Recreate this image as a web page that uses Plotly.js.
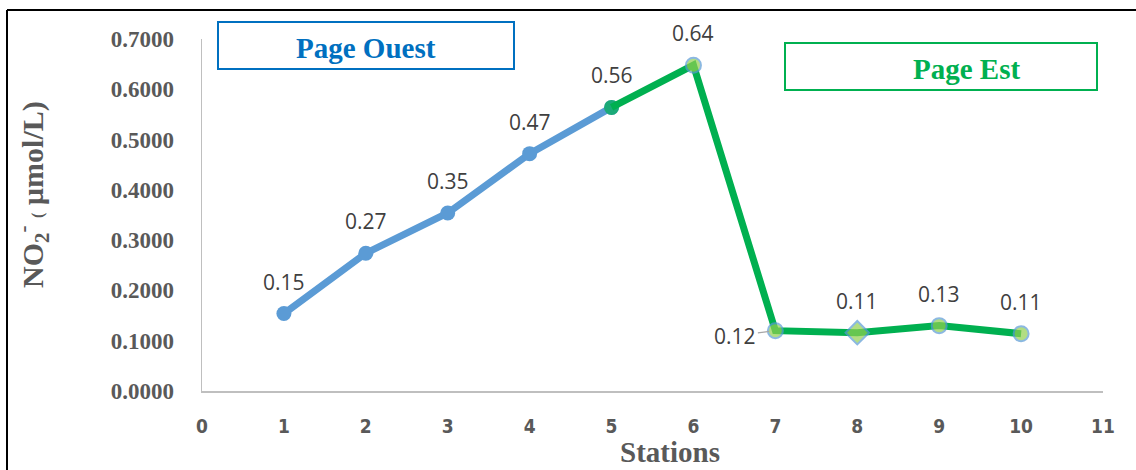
<!DOCTYPE html>
<html>
<head>
<meta charset="utf-8">
<script src="https://cdn.plot.ly/plotly-3.0.1.min.js"></script>
<style>
  html, body { margin: 0; padding: 0; background: #fff; }
  #chart { width: 1136px; height: 470px; }
</style>
</head>
<body>
<div id="chart"></div>
<script>
// ---- data ----
const stations = [1, 2, 3, 4, 5, 6, 7, 8, 9, 10];
const no2 = [0.154, 0.274, 0.354, 0.472, 0.564, 0.648, 0.120, 0.116, 0.130, 0.114];
const valueLabels = ["0.15", "0.27", "0.35", "0.47", "0.56", "0.64", "0.12", "0.11", "0.13", "0.11"];
const xTicks = [0, 1, 2, 3, 4, 5, 6, 7, 8, 9, 10, 11];
const yTicks = [0, 0.1, 0.2, 0.3, 0.4, 0.5, 0.6, 0.7];
const yTickText = ["0.0000", "0.1000", "0.2000", "0.3000", "0.4000", "0.5000", "0.6000", "0.7000"];
const westLabel = "Page Ouest";
const eastLabel = "Page Est";

// ---- layout helpers ----
const M = { l: 202, r: 33, t: 39, b: 79 };
const W = 1136, H = 470;
const PW = W - M.l - M.r, PH = H - M.t - M.b;
const px2x = p => (p - M.l) / PW;
const py2y = p => (H - M.b - p) / PH;

const westX = stations.slice(0, 5), westY = no2.slice(0, 5);
const eastX = stations.slice(4), eastY = no2.slice(4);

const blue = "#5B9BD5", green = "#00B050", lightGreen = "#92D050";

const westTrace = {
  type: "scatter", mode: "lines+markers",
  x: westX, y: westY,
  line: { color: blue, width: 7 },
  marker: { symbol: "circle", size: 15, color: blue },
  hoverinfo: "x+y", showlegend: false
};

const eastSymbols = eastX.map(s => s === 8 ? "diamond" : "circle");
const eastColors = eastX.map(s => s === 5 ? green : lightGreen);
const eastLineW = eastX.map(s => s === 5 ? 0 : 2);
const eastSizes = eastX.map(s => s === 8 ? 18 : 15);

const eastTrace = {
  type: "scatter", mode: "lines+markers",
  x: eastX, y: eastY,
  line: { color: green, width: 7 },
  marker: { symbol: eastSymbols, size: eastSizes, color: eastColors,
            line: { color: blue, width: eastLineW } },
  hoverinfo: "x+y", showlegend: false
};

const labelFont = { family: "Open Sans, Arial, sans-serif", size: 21, color: "#404040" };
const annotations = stations.map((s, i) => {
  if (s === 7) {
    return { x: s, y: no2[i], xref: "x", yref: "y", text: valueLabels[i],
      showarrow: true, arrowhead: 0, arrowwidth: 1.2, arrowcolor: "#A6A6A6",
      ax: -40, ay: 5, standoff: 6, font: labelFont };
  }
  return { x: s, y: no2[i], xref: "x", yref: "y", text: valueLabels[i],
    showarrow: false, yshift: 32, font: labelFont };
});

// Box titles
annotations.push({
  xref: "paper", yref: "paper", x: px2x(366), y: py2y(48), text: "<b>" + westLabel + "</b>",
  showarrow: false, xanchor: "center", yanchor: "middle",
  font: { family: "Liberation Serif, Times New Roman, serif", size: 29, color: "#0070C0" }
});
annotations.push({
  xref: "paper", yref: "paper", x: px2x(966), y: py2y(69), text: "<b>" + eastLabel + "</b>",
  showarrow: false, xanchor: "center", yanchor: "middle",
  font: { family: "Liberation Serif, Times New Roman, serif", size: 29, color: green }
});
// Axis titles
annotations.push({
  xref: "paper", yref: "paper", x: px2x(670), y: py2y(452), text: "<b>Stations</b>",
  showarrow: false, xanchor: "center", yanchor: "middle",
  font: { family: "Liberation Serif, Times New Roman, serif", size: 29, color: "#595959" }
});
annotations.push({
  xref: "paper", yref: "paper", x: px2x(32), y: py2y(195), textangle: -90,
  text: "<b>NO<sub>2</sub><sup>-</sup> <span style='font-size:16px'>(</span> µmol/L)</b>",
  showarrow: false, xanchor: "center", yanchor: "middle",
  font: { family: "Liberation Serif, Times New Roman, serif", size: 30, color: "#595959" }
});

const shapes = [
  // Page Ouest box
  { type: "rect", xref: "paper", yref: "paper", x0: px2x(218), x1: px2x(514), y0: py2y(69), y1: py2y(22),
    line: { color: "#0070C0", width: 2 }, fillcolor: "rgba(0,0,0,0)" },
  // Page Est box
  { type: "rect", xref: "paper", yref: "paper", x0: px2x(785), x1: px2x(1097), y0: py2y(90), y1: py2y(43),
    line: { color: green, width: 2 }, fillcolor: "rgba(0,0,0,0)" },
  // outer frame (left and top edges)
  { type: "line", xref: "paper", yref: "paper", x0: px2x(7), x1: px2x(7), y0: py2y(480), y1: py2y(10),
    line: { color: "#000", width: 2 } },
  { type: "line", xref: "paper", yref: "paper", x0: px2x(7), x1: px2x(1140), y0: py2y(10), y1: py2y(10),
    line: { color: "#000", width: 2 } }
];

const layout = {
  width: W, height: H,
  margin: M,
  paper_bgcolor: "#fff", plot_bgcolor: "#fff",
  showlegend: false,
  xaxis: {
    range: [0, 11], tickvals: xTicks, ticktext: xTicks.map(String),
    showgrid: false, zeroline: false,
    showline: true, linecolor: "#BFBFBF", linewidth: 1.5,
    ticks: "outside", ticklen: 18, tickcolor: "rgba(0,0,0,0)",
    tickfont: { family: "Liberation Sans Narrow, DejaVu Sans Condensed, Arial Narrow, sans-serif", size: 19, color: "#595959", weight: "bold" },
    fixedrange: true
  },
  yaxis: {
    range: [0, 0.7], tickvals: yTicks, ticktext: yTickText,
    showgrid: false, zeroline: false,
    showline: true, linecolor: "#BFBFBF", linewidth: 1.5,
    ticks: "outside", ticklen: 22, tickcolor: "rgba(0,0,0,0)",
    tickfont: { family: "Liberation Serif, Times New Roman, serif", size: 23, color: "#595959", weight: "bold" },
    fixedrange: true
  },
  annotations: annotations,
  shapes: shapes
};

Plotly.newPlot("chart", [westTrace, eastTrace], layout, { displayModeBar: false, staticPlot: true });
</script>
</body>
</html>
